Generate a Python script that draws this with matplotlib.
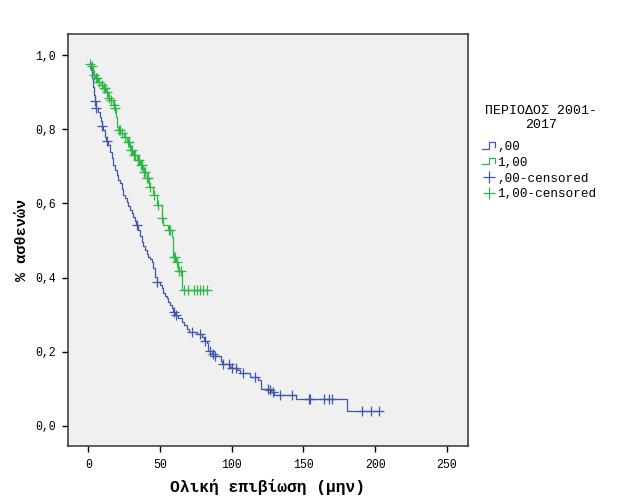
import numpy as np
import matplotlib
matplotlib.use("Agg")
import matplotlib.pyplot as plt
from matplotlib.lines import Line2D
from matplotlib.legend_handler import HandlerBase

# Kaplan-Meier steps (time in months, survival after the event)
blue_t = [1.2, 1.9, 2.6, 3.5, 4.0, 4.5, 5.2, 7.0, 8.2, 8.9, 9.4, 10.5, 11.6, 12.5,
          13.9, 15.1, 16.3, 17.4, 18.6, 19.8, 20.9, 22.1, 23.3, 24.4, 25.6, 26.8,
          27.9, 29.1, 30.3, 31.4, 32.6, 33.5, 34.9, 36.1, 37.2, 38.4, 39.5, 40.7,
          41.8, 43.0, 44.2, 45.3, 46.5, 47.6, 49.7, 51.2, 52.3, 53.5, 54.7, 55.8,
          57.0, 58.2, 59.3, 60.5, 62.6, 65.1, 66.7, 68.8, 70.5, 76.0, 79.3, 80.5,
          82.5, 83.7, 86.0, 88.0, 92.3, 93.5, 99.0, 100.0, 103.5, 106.0, 112.8,
          118.0, 120.2, 126.0, 127.5, 129.5, 144.6, 180.2]
blue_s = [0.978, 0.960, 0.938, 0.915, 0.892, 0.876, 0.858, 0.847, 0.834, 0.822,
          0.809, 0.798, 0.780, 0.768, 0.757, 0.739, 0.722, 0.704, 0.690, 0.677,
          0.663, 0.654, 0.639, 0.623, 0.615, 0.605, 0.593, 0.582, 0.574, 0.564,
          0.553, 0.542, 0.528, 0.512, 0.497, 0.485, 0.474, 0.464, 0.455, 0.449,
          0.443, 0.425, 0.402, 0.389, 0.380, 0.371, 0.358, 0.350, 0.344, 0.334,
          0.326, 0.317, 0.308, 0.300, 0.291, 0.281, 0.272, 0.261, 0.254, 0.248,
          0.240, 0.230, 0.223, 0.202, 0.195, 0.189, 0.176, 0.167, 0.160, 0.155,
          0.151, 0.144, 0.131, 0.125, 0.099, 0.096, 0.092, 0.084, 0.072, 0.041]
blue_cens = [4.6, 5.4, 9.5, 12.8, 33.6, 47.8, 59.7, 61.1, 72.2, 78.0, 81.4, 85.0,
             87.2, 88.4, 94.0, 97.8, 100.3, 102.7, 108.0, 116.0, 125.5, 127.0,
             128.5, 133.4, 142.0, 153.7, 154.9, 164.4, 167.6, 170.0, 190.6,
             196.9, 202.9]

green_t = [1.0, 1.9, 3.5, 4.7, 6.8, 8.9, 10.3, 12.3, 13.7, 15.1, 17.2, 18.6, 19.3,
           19.8, 20.9, 23.3, 24.9, 26.8, 29.1, 31.4, 33.8, 36.1, 38.4, 40.7, 42.5,
           44.9, 48.1, 51.2, 52.3, 55.4, 58.2, 59.3, 61.2, 62.6, 65.2]
green_s = [0.976, 0.970, 0.946, 0.938, 0.927, 0.919, 0.911, 0.900, 0.884, 0.879,
           0.865, 0.857, 0.834, 0.807, 0.798, 0.789, 0.779, 0.766, 0.744, 0.730,
           0.717, 0.704, 0.685, 0.668, 0.645, 0.623, 0.596, 0.560, 0.542, 0.528,
           0.510, 0.456, 0.443, 0.418, 0.368]
green_cens = [1.2, 2.5, 3.8, 5.2, 6.0, 7.5, 9.3, 10.8, 11.5, 12.8, 14.2, 15.8, 17.6,
              18.9, 21.3, 22.2, 23.8, 25.3, 27.4, 28.2, 29.8, 30.6, 32.0, 32.8,
              34.5, 35.2, 36.8, 37.6, 39.0, 39.8, 41.2, 41.9, 43.2, 45.5, 48.6,
              51.6, 55.9, 56.8, 59.7, 60.4, 61.7, 63.4, 64.3, 66.8, 69.7, 73.7,
              76.0, 77.8, 80.1, 82.9]

groups = [",00", "1,00"]
colors = ["#3E58AC", "#2EB848"]
x_ticks = [0, 50, 100, 150, 200, 250]
y_ticks = [0.0, 0.2, 0.4, 0.6, 0.8, 1.0]


def surv_at(times, surv, t):
    i = np.searchsorted(times, t, side="right") - 1
    return np.asarray(surv)[np.clip(i, 0, None)]


class StepHandler(HandlerBase):
    def create_artists(self, legend, orig_handle, xdescent, ydescent,
                       width, height, fontsize, trans):
        x0, y0 = -xdescent, -ydescent
        xs = [x0, x0 + 0.5 * width, x0 + 0.5 * width, x0 + width, x0 + width]
        ys = [y0 + 0.15 * height, y0 + 0.15 * height, y0 + 0.85 * height,
              y0 + 0.85 * height, y0 + 0.35 * height]
        ln = Line2D(xs, ys, color=orig_handle.get_color(), lw=0.9)
        ln.set_transform(trans)
        return [ln]


fig = plt.figure(figsize=(6.25, 5), dpi=100)
ax = fig.add_axes([0.1088, 0.108, 0.64, 0.824])
ax.set_facecolor("#F0F0F0")

data = [(blue_t, blue_s, blue_cens), (green_t, green_s, green_cens)]
for (t, s, c), col in zip(data, colors):
    tt = list(t) + [max(c)]
    ss = list(s) + [s[-1]]
    ax.step(tt, ss, where="post", color=col, lw=0.9)
    ax.plot(c, surv_at(t, s, c), linestyle="none", marker="+",
            markersize=6.5, markeredgewidth=0.9, color=col)

ax.set_xlim(-14.2, 264.8)
ax.set_ylim(-0.054, 1.057)
ax.set_xticks(x_ticks)
ax.set_yticks(y_ticks)
ax.set_yticklabels([f"{v:.1f}".replace(".", ",") for v in y_ticks])
ax.tick_params(direction="out", length=4, width=1, colors="black",
               labelsize=8.3, pad=5)
for lab in ax.get_xticklabels() + ax.get_yticklabels():
    lab.set_family("Liberation Mono")
for sp in ax.spines.values():
    sp.set_linewidth(1.1)
    sp.set_color("#333333")

ax.set_xlabel("Ολική επιβίωση (μην)", family="Liberation Mono",
              fontweight="bold", fontsize=11.7, labelpad=6)
ax.set_ylabel("% ασθενών", family="Liberation Mono",
              fontweight="bold", fontsize=11, labelpad=4)

# legend: title as separate text, entries below it
fig.text(541 / 625, 1 - 118 / 500, "ΠΕΡΙΟΔΟΣ 2001-\n2017", ha="center",
         va="center", family="Liberation Mono", fontsize=9.5,
         multialignment="center", linespacing=1.15)

handles = [Line2D([], [], color=colors[0]), Line2D([], [], color=colors[1]),
           Line2D([], [], color=colors[0], marker="+", linestyle="none",
                  markersize=8, markeredgewidth=0.9),
           Line2D([], [], color=colors[1], marker="+", linestyle="none",
                  markersize=8, markeredgewidth=0.9)]
labels = groups + [g + "-censored" for g in groups]
fig.legend(handles, labels, loc="upper left",
           bbox_to_anchor=(482 / 625, 1 - 141 / 500),
           frameon=False, handlelength=1.05, handletextpad=0.15,
           labelspacing=0.3, borderaxespad=0, borderpad=0,
           prop={"family": "Liberation Mono", "size": 9.1},
           handler_map={handles[0]: StepHandler(),
                        handles[1]: StepHandler()})

fig.savefig("out.png", dpi=100)
